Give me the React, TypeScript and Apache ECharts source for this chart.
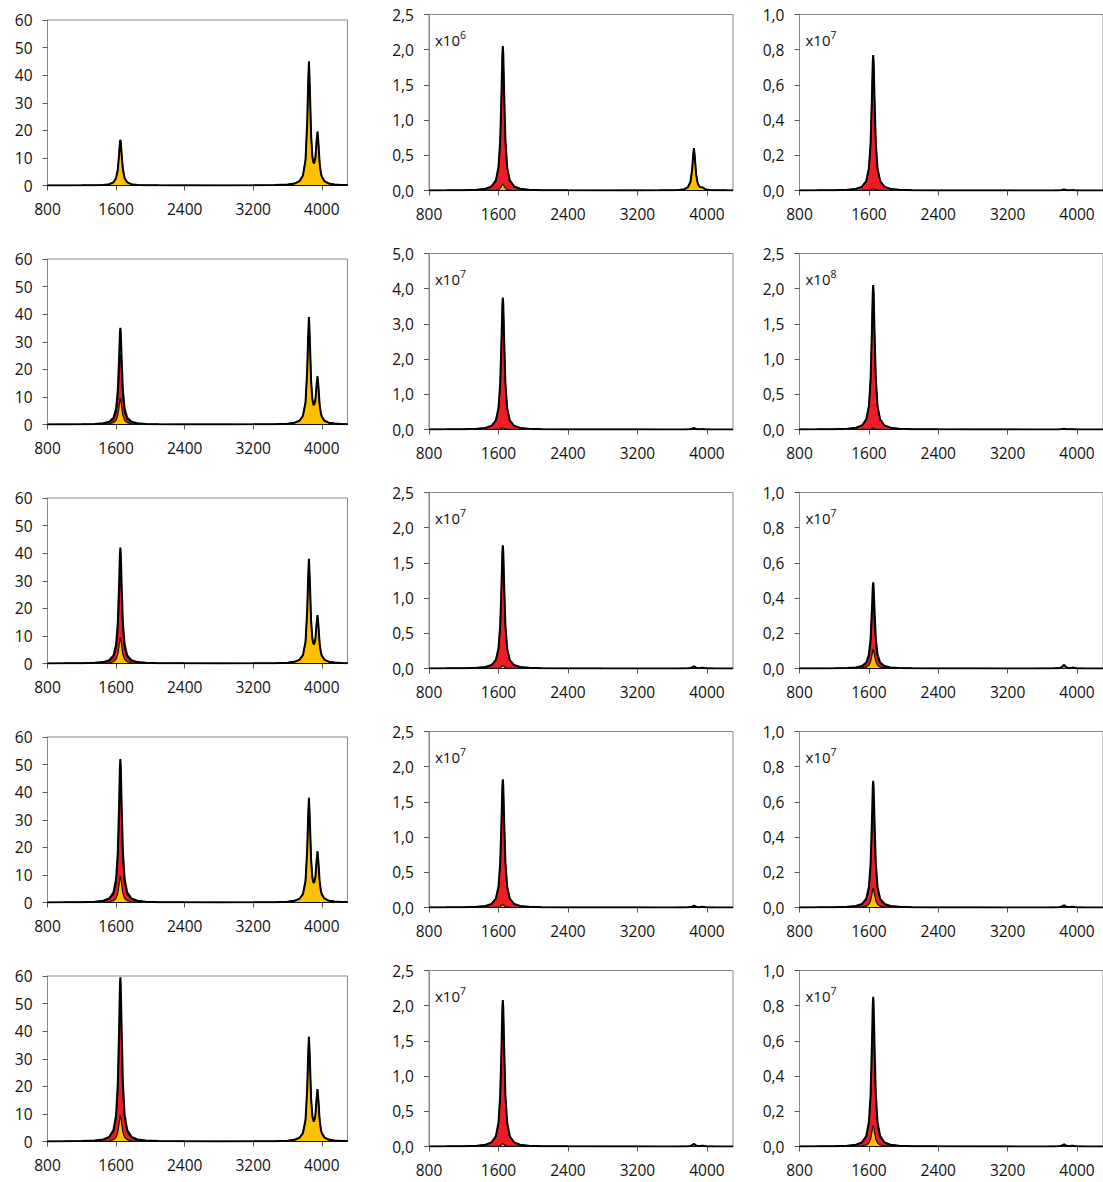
import React, { useEffect, useRef } from "react";
import * as echarts from "echarts";

// Wavenumber grid shared by every panel
const X = [
  800, 1000, 1200, 1350, 1450, 1520, 1570, 1600, 1620, 1635, 1645, 1650, 1655, 1665, 1680, 1700, 1730, 1780,
  1850, 1950, 2100, 2400, 2800, 3200, 3450, 3600, 3680, 3740, 3780, 3810, 3830, 3840, 3850, 3860, 3875, 3890,
  3900, 3910, 3925, 3940, 3950, 3960, 3975, 3990, 4000, 4030, 4080, 4150, 4230, 4300,
];

// Normalised band profiles on the X grid
const SHAPE_1650 = [
  0.0007, 0.0011, 0.0024, 0.0054, 0.012, 0.028, 0.07, 0.162, 0.35, 0.683, 0.951, 1, 0.951, 0.683, 0.35, 0.162,
  0.07, 0.028, 0.012, 0.0054, 0.0024, 0.0009, 0.0004, 0.0002, 0.00015, 0.00013, 0.0001, 0.0001, 0.0001, 0.0001,
  0.0001, 0.0001, 0.0001, 0.0001, 0.0001, 0.0001, 0.0001, 0.0001, 0.0001, 0.0001, 0.0001, 0.0001, 0.0001, 0.0001,
  0.0001, 0.0001, 0.0001, 0.0001, 0.0001, 0.0001,
];
const SHAPE_3850 = [
  0, 0, 0.0001, 0.0001, 0.0001, 0.0001, 0.0001, 0.0001, 0.0001, 0.0001, 0.0001, 0.0001, 0.0001, 0.0001, 0.0001,
  0.0001, 0.0001, 0.0001, 0.0001, 0.0001, 0.0001, 0.0002, 0.0004, 0.0009, 0.0025, 0.0064, 0.0137, 0.032, 0.0755,
  0.2, 0.5, 0.8, 1, 0.8, 0.39, 0.2, 0.138, 0.1, 0.0664, 0.047, 0.0385, 0.032, 0.025, 0.02, 0.0175, 0.0122, 0.0075,
  0.0044, 0.0028, 0.002,
];
const SHAPE_3950 = [
  0, 0, 0.0001, 0.0001, 0.0001, 0.0001, 0.0001, 0.0001, 0.0001, 0.0001, 0.0001, 0.0001, 0.0001, 0.0001, 0.0001,
  0.0001, 0.0001, 0.0001, 0.0001, 0.0001, 0.0001, 0.0002, 0.0003, 0.0007, 0.0016, 0.0033, 0.0055, 0.009, 0.0137,
  0.02, 0.027, 0.032, 0.0385, 0.047, 0.0664, 0.1, 0.138, 0.2, 0.39, 0.8, 1, 0.8, 0.39, 0.2, 0.138, 0.0588, 0.0231,
  0.0099, 0.0051, 0.0033,
];

// Band heights per panel [row][column], in the panel's axis units
const RED_1650 = [
  [0, 1.96, 0.76],
  [25.5, 3.7, 2.03],
  [32.5, 1.71, 0.38],
  [42.5, 1.78, 0.61],
  [50, 2.04, 0.73],
];
const YELLOW_1650 = [
  [16.5, 0.09, 0.01],
  [9.5, 0.05, 0.02],
  [9.5, 0.04, 0.11],
  [9.5, 0.04, 0.11],
  [9.5, 0.04, 0.12],
];
const YELLOW_3850 = [
  [44.3, 0.6, 0.006],
  [38.3, 0.04, 0.01],
  [37.3, 0.03, 0.02],
  [37.3, 0.025, 0.012],
  [37.3, 0.035, 0.012],
];
const YELLOW_3950 = [
  [17.8, 0.02, 0.002],
  [16.0, 0.01, 0.003],
  [16.1, 0.01, 0.005],
  [17.1, 0.01, 0.004],
  [17.6, 0.01, 0.004],
];

// Axis settings per panel
const Y_MAX = [
  [60, 2.5, 1.0],
  [60, 5.0, 2.5],
  [60, 2.5, 1.0],
  [60, 2.5, 1.0],
  [60, 2.5, 1.0],
];
const Y_STEP = [
  [10, 0.5, 0.2],
  [10, 1.0, 0.5],
  [10, 0.5, 0.2],
  [10, 0.5, 0.2],
  [10, 0.5, 0.2],
];
const EXPONENT = [
  [0, 6, 7],
  [0, 7, 8],
  [0, 7, 7],
  [0, 7, 7],
  [0, 7, 7],
];
const X_TICKS = [800, 1600, 2400, 3200, 4000];
const X_MIN = 800;
const X_MAX = 4300;

const FONT = "Open Sans";
const RED = "#EE1C25";
const YELLOW = "#FFC000";
const FRAME = "#8a8a8a";
const TEXT = "#111";

const COL_LEFT = [47.5, 429, 799.5];
const COL_WIDTH = [300, 304, 304.5];
const ROW_STEP = 239;

export default function App() {
  const ref = useRef<HTMLDivElement>(null);

  useEffect(() => {
    document.body.style.margin = "0";
    document.body.style.overflow = "hidden";
    if (!ref.current) return;
    const chart = echarts.init(ref.current, undefined, { renderer: "svg" });

    const grid: any[] = [];
    const xAxis: any[] = [];
    const yAxis: any[] = [];
    const series: any[] = [];
    const graphic: any[] = [];

    let idx = 0;
    for (let r = 0; r < 5; r++) {
      for (let c = 0; c < 3; c++) {
        const top = c === 0 ? 20 + ROW_STEP * r : 14.5 + ROW_STEP * r;
        const height = c === 0 ? 165.5 : 176;
        grid.push({
          left: COL_LEFT[c],
          top,
          width: COL_WIDTH[c],
          height,
          show: true,
          borderColor: FRAME,
          borderWidth: 1,
          backgroundColor: "transparent",
          containLabel: false,
        });
        xAxis.push({
          type: "value",
          gridIndex: idx,
          min: X_MIN,
          max: X_MAX,
          interval: 800,
          axisLine: { show: true, lineStyle: { color: FRAME, width: 1 } },
          axisTick: { show: true, inside: false, length: 5, lineStyle: { color: "#555" }, customValues: X_TICKS },
          axisLabel: {
            customValues: X_TICKS,
            margin: 15,
            fontFamily: FONT,
            fontSize: 15.5,
            color: TEXT,
            formatter: (v: number) => String(Math.round(v)),
          },
          splitLine: { show: false },
        });
        const dec = c === 0 ? 0 : 1;
        yAxis.push({
          type: "value",
          gridIndex: idx,
          min: 0,
          max: Y_MAX[r][c],
          interval: Y_STEP[r][c],
          axisLine: { show: true, lineStyle: { color: FRAME, width: 1 } },
          axisTick: { show: true, inside: false, length: 5, lineStyle: { color: "#555" } },
          axisLabel: {
            margin: 15,
            fontFamily: FONT,
            fontSize: 15.5,
            color: TEXT,
            showMaxLabel: true,
            showMinLabel: true,
            formatter: (v: number) => (dec === 0 ? String(Math.round(v)) : v.toFixed(1).replace(".", ",")),
          },
          splitLine: { show: false },
        });

        const red = X.map((x, k) => [x, RED_1650[r][c] * SHAPE_1650[k]]);
        const y1 = X.map((x, k) => [x, YELLOW_1650[r][c] * SHAPE_1650[k]]);
        const y2 = X.map((x, k) => [x, YELLOW_3850[r][c] * SHAPE_3850[k] + YELLOW_3950[r][c] * SHAPE_3950[k]]);
        const total = X.map((x, k) => [x, red[k][1] + y1[k][1] + y2[k][1]]);

        const base = {
          type: "line",
          xAxisIndex: idx,
          yAxisIndex: idx,
          symbol: "none",
          smooth: false,
          silent: true,
          clip: true,
        };
        series.push({
          ...base,
          name: "red",
          data: red,
          lineStyle: { color: "#111", width: 1.2 },
          areaStyle: { color: RED, opacity: 1 },
        });
        series.push({
          ...base,
          name: "yellow1650",
          data: y1,
          lineStyle: { color: "#111", width: 1.2 },
          areaStyle: { color: YELLOW, opacity: 1 },
        });
        series.push({
          ...base,
          name: "yellowOH",
          data: y2,
          lineStyle: { color: "#111", width: 1.2 },
          areaStyle: { color: YELLOW, opacity: 1 },
        });
        series.push({
          ...base,
          name: "total",
          data: total,
          lineStyle: { color: "#000", width: 2 },
        });

        const e = EXPONENT[r][c];
        if (e) {
          graphic.push({
            type: "text",
            x: COL_LEFT[c] + 6,
            y: top + 25,
            style: {
              text: `{b|x10}{s|${e}}`,
              verticalAlign: "middle",
              rich: {
                b: { fontFamily: FONT, fontSize: 15, lineHeight: 20, fill: TEXT, verticalAlign: "middle" },
                s: { fontFamily: FONT, fontSize: 10.5, lineHeight: 11, fill: TEXT, verticalAlign: "top" },
              },
            },
          });
        }
        idx++;
      }
    }

    chart.setOption({
      animation: false,
      backgroundColor: "#fff",
      grid,
      xAxis,
      yAxis,
      series,
      graphic,
    });

    return () => chart.dispose();
  }, []);

  return <div ref={ref} style={{ position: "absolute", left: 0, top: 0, width: 1103, height: 1182 }} />;
}
